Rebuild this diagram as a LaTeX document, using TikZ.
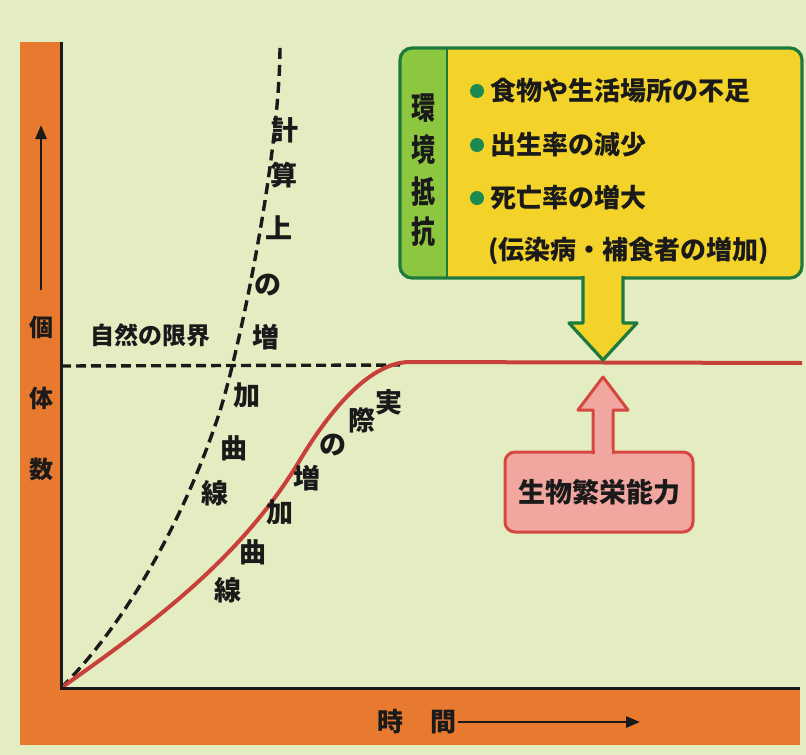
\documentclass[tikz,border=0pt]{standalone}
\usepackage{fontspec}
\setmainfont{Noto Sans CJK JP}
\usetikzlibrary{arrows.meta}
\definecolor{bg}{HTML}{E4EDC2}
\definecolor{axorange}{HTML}{E87A30}
\definecolor{curvered}{HTML}{C8403A}
\definecolor{boxyellow}{HTML}{F3D22A}
\definecolor{boxgreen}{HTML}{8DC63F}
\definecolor{bordergreen}{HTML}{1E7A3C}
\definecolor{dotgreen}{HTML}{1A8A50}
\definecolor{pinkfill}{HTML}{F2A6A0}
\definecolor{pinkborder}{HTML}{D4483F}
\definecolor{ink}{HTML}{1A1A1A}
\tikzset{
  lbl/.style={inner sep=0pt, text=ink, font=\fontsize{27}{30}\selectfont\bfseries},
  axlbl/.style={inner sep=0pt, text=ink, font=\fontsize{24}{26}\selectfont\bfseries},
  boxtxt/.style={inner sep=0pt, anchor=west, text=ink, font=\fontsize{26}{28}\selectfont\bfseries},
  dashline/.style={line width=3.4, dash pattern=on 11pt off 6pt, ink},
  redcurve/.style={line width=4, curvered},
  bulletdot/.style={circle, fill=dotgreen, inner sep=0pt, minimum size=14pt},
}
\begin{document}
\begin{tikzpicture}[x=1pt,y=-1pt]
\useasboundingbox (0,0) rectangle (806,755);
\fill[bg] (0,0) rectangle (806,755);
% orange axis bands
\fill[axorange] (20,42) rectangle (61,745);
\fill[axorange] (20,688) rectangle (800,745);
\coordinate (O) at (61,688);
\coordinate (ytop) at (61,42);
\coordinate (xend) at (800,688);

% y axis label + arrow
\coordinate (ya0) at (41,290);
\coordinate (ya1) at (41,125);
\draw[line width=2.8, ink, -{Triangle[length=14pt,width=11pt]}] (ya0) -- (ya1);
\node[axlbl] (y1) at (41,327) {個};
\node[axlbl] (y2) at (41,398) {体};
\node[axlbl] (y3) at (41,469) {数};

% x axis label + arrow
\node[axlbl, font=\fontsize{26}{28}\selectfont\bfseries] (t1) at (390,722) {時};
\node[axlbl, font=\fontsize{26}{28}\selectfont\bfseries] (t2) at (443,722) {間};
\coordinate (xa1) at (640,722);
\draw[line width=2.8, ink, -{Triangle[length=14pt,width=11pt]}] (t2.east) ++(2,0) -- (xa1);

% natural limit
\coordinate (lim0) at (61,366);
\coordinate (lim1) at (400,365);
\draw[dashline, dash pattern=on 10pt off 5pt] (lim0) -- (lim1);
\node[axlbl] (limtxt) at (150,335) {自然の限界};

% theoretical curve (dashed)
\coordinate (dmid) at (218,417);
\coordinate (dtop) at (280,45);
\draw[dashline] (O) .. controls (120,630) and (180,530) .. (dmid)
                    .. controls (237,361) and (280,160) .. (dtop);

% actual curve (red)
\coordinate (rmid) at (300,460);
\coordinate (rtop) at (410,362);
\coordinate (rend) at (802,363);
\draw[redcurve] (O) .. controls (150,625) and (240,560) .. (rmid)
                    .. controls (330,410) and (370,362) .. (rtop) -- (rend);

\draw[line width=3, ink] (ytop) -- (O) -- (xend);

% labels along dashed curve
\node[lbl] (k1) at (285,130) {計};
\node[lbl] (k2) at (284,175) {算};
\node[lbl] (k3) at (279,228) {上};
\node[lbl] (k4) at (268,285) {の};
\node[lbl] (k5) at (266,337) {増};
\node[lbl] (k6) at (247,395) {加};
\node[lbl] (k7) at (234,448) {曲};
\node[lbl] (k8) at (215,493) {線};

% labels along red curve
\node[lbl] (j1) at (389,402) {実};
\node[lbl] (j2) at (362,420) {際};
\node[lbl] (j3) at (333,445) {の};
\node[lbl] (j4) at (307,478) {増};
\node[lbl] (j5) at (280,512) {加};
\node[lbl] (j6) at (253,552) {曲};
\node[lbl] (j7) at (228,590) {線};

% environmental resistance box
\fill[boxyellow, rounded corners=12pt] (400,48) rectangle (802,278);
\begin{scope}
  \clip[rounded corners=12pt] (400,48) rectangle (802,278);
  \fill[boxgreen] (400,48) rectangle (447,278);
\end{scope}
\draw[bordergreen, line width=3.2, rounded corners=12pt] (400,48) rectangle (802,278);
\draw[bordergreen, line width=2.5] (447,48) -- (447,278);
% down arrow
\coordinate (darrow) at (603,360);
\draw[bordergreen, line width=3.2, fill=boxyellow, line join=round]
  (583,276) -- (583,323) -- (569,323) -- (darrow) -- (637,323) -- (623,323) -- (623,276);
\fill[boxyellow] (585,272) rectangle (621,281);

\node[lbl, font=\fontsize{24}{26}\selectfont\bfseries] (e1) at (423,108) {\scalebox{1}[1.3]{環}};
\node[lbl, font=\fontsize{24}{26}\selectfont\bfseries] (e2) at (423,150) {\scalebox{1}[1.3]{境}};
\node[lbl, font=\fontsize{24}{26}\selectfont\bfseries] (e3) at (423,192) {\scalebox{1}[1.3]{抵}};
\node[lbl, font=\fontsize{24}{26}\selectfont\bfseries] (e4) at (423,232) {\scalebox{1}[1.3]{抗}};

\node[bulletdot] (b1) at (477,91) {};
\node[bulletdot] (b2) at (477,145) {};
\node[bulletdot] (b3) at (477,198) {};
\node[boxtxt] (l1) at (490,91) {食物や生活場所の不足};
\node[boxtxt] (l2) at (490,145) {出生率の減少};
\node[boxtxt] (l3) at (490,198) {死亡率の増大};
\node[boxtxt] (l4) at (488,251) {(伝染病・補食者の増加)};

% biological potential box
\fill[pinkfill, rounded corners=10pt] (505,452) rectangle (693,532);
\coordinate (uarrow) at (603,377);
\draw[pinkborder, line width=3, fill=pinkfill, line join=round]
  (593,454) -- (593,410) -- (578,410) -- (uarrow) -- (628,410) -- (613,410) -- (613,454);
\draw[pinkborder, line width=3, rounded corners=10pt] (505,452) rectangle (693,532);
\fill[pinkfill] (594.5,449) rectangle (611.5,456);
\node[lbl] (bp) at (599,492) {生物繁栄能力};
\end{tikzpicture}
\end{document}
